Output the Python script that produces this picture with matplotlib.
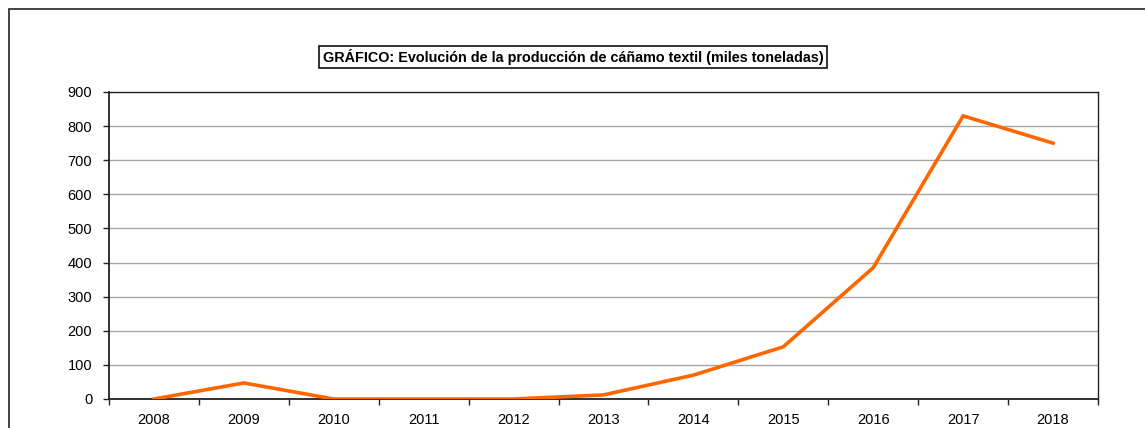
import numpy as np
import matplotlib.pyplot as plt
from matplotlib.patches import Rectangle

plt.rcParams['font.family'] = ['Liberation Sans', 'DejaVu Sans']

# produccion de cañamo textil, miles de toneladas
years = ['2008', '2009', '2010', '2011', '2012', '2013', '2014', '2015', '2016', '2017', '2018']
produccion = [0, 47, 0, 0, 0, 12, 70, 153, 385, 830, 750]
y_ticks = [0, 100, 200, 300, 400, 500, 600, 700, 800, 900]

fig = plt.figure(figsize=(11.45, 4.28), dpi=100)

# marco exterior del grafico (sale por la derecha y abajo)
fig.patches.append(Rectangle((9 / 1145, -0.1), 1.2, 1.1 - 9 / 428,
                             transform=fig.transFigure, fill=False,
                             edgecolor='#222222', linewidth=1.2))

ax = fig.add_axes([109 / 1145, 1 - 399 / 428, (1098 - 109) / 1145, (399 - 92) / 428])

x = np.arange(len(years))
ax.plot(x, produccion, color='#FF6600', linewidth=2.6, solid_joinstyle='miter', zorder=3)

ax.set_xlim(-0.5, len(years) - 0.5)
ax.set_ylim(0, 900)
ax.set_yticks(y_ticks)
ax.set_yticklabels([str(v) for v in y_ticks], fontsize=10.5)
ax.set_xticks(x)
ax.set_xticklabels(years, fontsize=10.5)
# marcas del eje x en los limites de cada categoria
ax.set_xticks(np.arange(-0.5, len(years)), minor=True)
ax.tick_params(axis='x', which='major', length=0, pad=10)
ax.tick_params(axis='x', which='minor', length=4, width=1, color='#222222')
ax.tick_params(axis='y', length=4, width=1, color='#222222', pad=8)

ax.yaxis.grid(True, color='#A6A6A6', linewidth=1)
ax.set_axisbelow(True)
for side in ['left', 'bottom']:
    ax.spines[side].set_color('#222222')
    ax.spines[side].set_linewidth(1.3)
for side in ['top', 'right']:
    ax.spines[side].set_color('#222222')
    ax.spines[side].set_linewidth(1.0)

fig.text(573 / 1145, 1 - 57 / 428,
         'GRÁFICO: Evolución de la producción de cáñamo textil (miles toneladas)',
         ha='center', va='center', fontsize=10.4, fontweight='bold',
         bbox=dict(boxstyle='square,pad=0.22', facecolor='white',
                   edgecolor='#111111', linewidth=1.2))

plt.savefig('out.png', dpi=100)
